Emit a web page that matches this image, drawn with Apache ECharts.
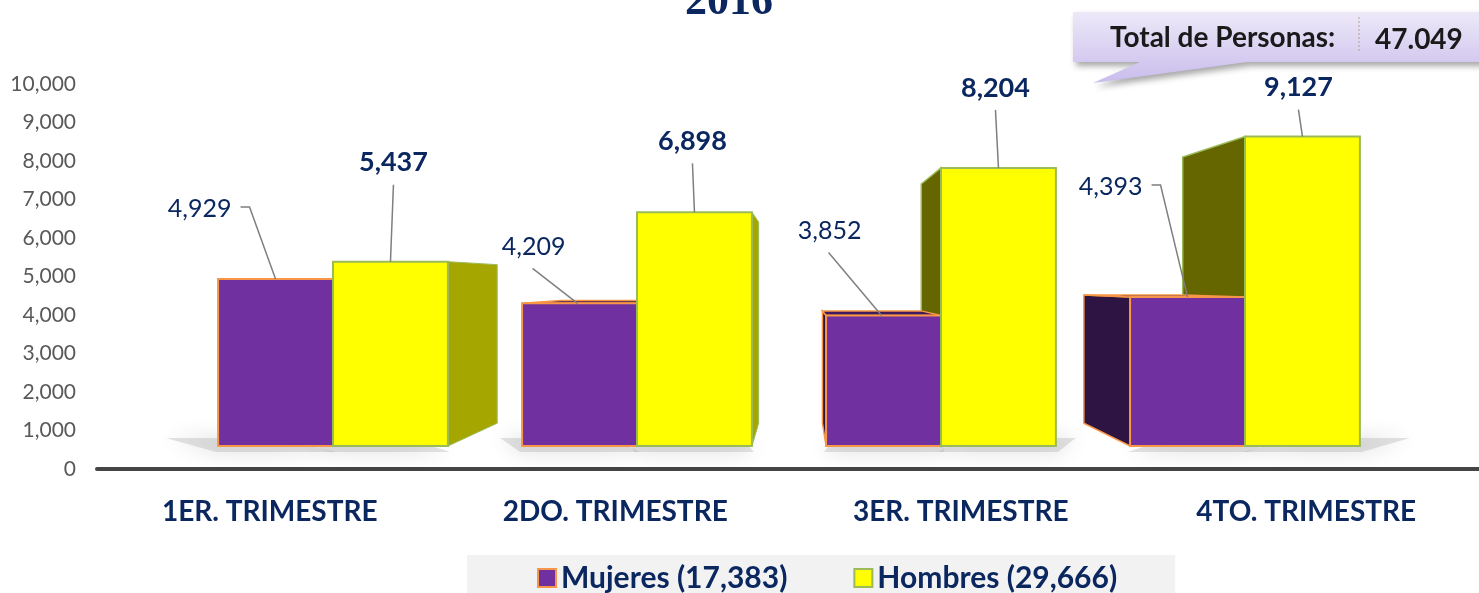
<!DOCTYPE html>
<html>
<head>
<meta charset="utf-8">
<script src="https://cdn.jsdelivr.net/npm/echarts@6/dist/echarts.min.js"></script>
<style>
html, body { margin: 0; padding: 0; background: #fff; }
#chart { width: 1479px; height: 593px; }
</style>
</head>
<body>
<div id="chart"></div>
<script>
// datos 2016
const trimestres = ['1ER. TRIMESTRE', '2DO. TRIMESTRE', '3ER. TRIMESTRE', '4TO. TRIMESTRE']
const mujeres = [4929, 4209, 3852, 4393]
const hombres = [5437, 6898, 8204, 9127]

// posicion de etiquetas (px, respecto a la cara superior de la barra)
const mujLabelOffset = [[-44, -70], [-14, -56], [-22, -84], [-45, -110]]
const mujLabelElbow = [true, false, false, true]
const homLabelOffset = [[3, -99], [-2, -71], [-3, -80], [-4, -49]]

const NAVY = '#0b2760'
const VP = [800, 283]   // punto de fuga de la perspectiva
const DEPTH = 0.14

const sum = arr => arr.reduce((a, b) => a + b, 0)
const fmtComma = v => String(v).replace(/\B(?=(\d{3})+(?!\d))/g, ',')
const fmtDot = v => String(v).replace(/\B(?=(\d{3})+(?!\d))/g, '.')

const nameM = 'Mujeres (' + fmtComma(sum(mujeres)) + ')'
const nameH = 'Hombres (' + fmtComma(sum(hombres)) + ')'
const total = sum(mujeres) + sum(hombres)

const barStyles = [
  { front: '#7030a0', border: '#f79646', sideL: '#2e1442', sideR: '#4a2070', top: '#3e1a5e' },
  { front: '#ffff00', border: '#9bbb59', sideL: '#666600', sideR: '#a6a600', top: '#c8c800' }
]

const back = p => [p[0] + (VP[0] - p[0]) * DEPTH, p[1] + (VP[1] - p[1]) * DEPTH]

function renderBar(kind) {
  return function (params, api) {
    const i = api.value(0)
    const top = api.coord([i, api.value(1)])
    const base = api.coord([i, 0])
    const w = api.size([1, 0])[0] * 0.378
    const x0 = kind === 0 ? top[0] - w : top[0]
    const x1 = x0 + w
    const y0 = top[1]
    const y1 = base[1]
    const cx = (x0 + x1) / 2
    const st = barStyles[kind]
    const sideZ = kind === 0 ? 2 : 1
    const children = []

    // sombra en el piso
    const s = (cx - VP[0]) * 0.1
    children.push({
      type: 'polygon', z2: 0,
      shape: { points: [[x0 - 2, y1 + 6], [x1 + 2, y1 + 6], [x1 + s, y1 - 8], [x0 + s, y1 - 8]] },
      style: { fill: 'rgba(160,160,160,0.3)', shadowBlur: 20, shadowColor: 'rgba(0,0,0,0.45)' }
    })

    const tl = [x0, y0], tr = [x1, y0], bl = [x0, y1], br = [x1, y1]
    if (x1 < VP[0]) {
      children.push({
        type: 'polygon', z2: sideZ,
        shape: { points: [tr, br, back(br), back(tr)] },
        style: { fill: st.sideR, stroke: st.border, lineWidth: 1 }
      })
    }
    if (x0 > VP[0]) {
      children.push({
        type: 'polygon', z2: sideZ,
        shape: { points: [tl, bl, back(bl), back(tl)] },
        style: { fill: st.sideL, stroke: st.border, lineWidth: 1.5 }
      })
    }
    if (y0 > VP[1]) {
      children.push({
        type: 'polygon', z2: sideZ,
        shape: { points: [tl, tr, back(tr), back(tl)] },
        style: { fill: st.top, stroke: st.border, lineWidth: 1.5 }
      })
    }
    children.push({
      type: 'rect', z2: 5,
      shape: { x: x0, y: y0, width: w, height: y1 - y0 },
      style: { fill: st.front, stroke: st.border, lineWidth: 2 }
    })

    // etiqueta y linea guia
    const label = fmtComma(api.value(1))
    if (kind === 0) {
      const off = mujLabelOffset[i]
      const ax = cx + off[0], ay = y0 + off[1]
      children.push({
        type: 'text', z2: 10,
        style: { text: label, x: ax, y: ay, align: 'right', verticalAlign: 'middle',
          font: '400 25px Lato', fill: NAVY }
      })
      const pts = mujLabelElbow[i]
        ? [[ax + 9, ay - 2], [ax + 18, ay - 2], [cx, y0]]
        : [[ax - 33, ay + 21], [cx - 2, y0]]
      children.push({
        type: 'polyline', z2: 10,
        shape: { points: pts },
        style: { stroke: '#7f7f7f', lineWidth: 1.5, fill: null }
      })
    } else {
      const off = homLabelOffset[i]
      const ax = cx + off[0], ay = y0 + off[1]
      children.push({
        type: 'text', z2: 10,
        style: { text: label, x: ax, y: ay, align: 'center', verticalAlign: 'middle',
          font: 'bold 27px Lato', fill: NAVY }
      })
      children.push({
        type: 'polyline', z2: 10,
        shape: { points: [[ax, ay + 22], [cx, y0]] },
        style: { stroke: '#7f7f7f', lineWidth: 1.5, fill: null }
      })
    }
    return { type: 'group', children }
  }
}

const chart = echarts.init(document.getElementById('chart'))

chart.setOption({
  animation: false,
  grid: [
    { left: 97, right: 0, top: 84, bottom: 124 },
    { left: 181, right: 82, top: 107, bottom: 147 }
  ],
  xAxis: [
    {
      type: 'category', gridIndex: 0, data: trimestres,
      axisLine: { lineStyle: { color: '#454545', width: 4, cap: 'round' } },
      axisTick: { show: false },
      axisLabel: { margin: 29, fontFamily: 'Lato', fontWeight: 'bold', fontSize: 28, color: NAVY }
    },
    { type: 'category', gridIndex: 1, data: trimestres, show: false }
  ],
  yAxis: [
    {
      type: 'value', gridIndex: 0, min: 0, max: 10000, interval: 1000,
      axisLine: { show: false }, axisTick: { show: false }, splitLine: { show: false },
      axisLabel: { formatter: v => fmtComma(v), fontFamily: 'Lato', fontSize: 21, color: '#595959', margin: 21 }
    },
    { type: 'value', gridIndex: 1, min: 0, max: 10000, show: false }
  ],
  legend: {
    left: 467, top: 555,
    padding: [8, 58, 8, 70],
    itemGap: 66, itemWidth: 18, itemHeight: 18,
    backgroundColor: '#f2f2f2',
    textStyle: { fontFamily: 'Lato', fontWeight: 'bold', fontSize: 30, color: NAVY },
    data: [
      { name: nameM, icon: 'rect', itemStyle: { color: '#7030a0', borderColor: '#f79646', borderWidth: 2 } },
      { name: nameH, icon: 'rect', itemStyle: { color: '#ffff00', borderColor: '#9bbb59', borderWidth: 2 } }
    ]
  },
  graphic: [
    {
      type: 'text', x: 729, y: -19,
      style: { text: '2016', font: 'bold 44px "Liberation Serif"', fill: '#0b2760', align: 'center' }
    },
    {
      type: 'polygon', z: 20,
      shape: { points: [[1073, 12], [1490, 12], [1490, 62], [1247, 62], [1093, 83], [1140, 62], [1073, 62]] },
      style: {
        fill: new echarts.graphic.LinearGradient(0, 0, 0, 1, [
          { offset: 0, color: '#ede9f8' },
          { offset: 1, color: '#c9bcec' }
        ]),
        shadowBlur: 6, shadowOffsetX: 3, shadowOffsetY: 4, shadowColor: 'rgba(0,0,0,0.35)'
      }
    },
    {
      type: 'text', z: 21, x: 1110, y: 38,
      style: { text: 'Total de Personas:', font: 'bold 28px Lato', fill: '#1a1a1a', verticalAlign: 'middle' }
    },
    {
      type: 'line', z: 21,
      shape: { x1: 1359, y1: 17, x2: 1359, y2: 52 },
      style: { stroke: '#b5a184', lineWidth: 1, lineDash: [2, 2] }
    },
    {
      type: 'text', z: 21, x: 1375, y: 40,
      style: { text: fmtDot(total), font: 'bold 28px Lato', fill: '#1a1a1a', verticalAlign: 'middle' }
    }
  ],
  series: [
    {
      type: 'custom', name: nameM, xAxisIndex: 1, yAxisIndex: 1,
      renderItem: renderBar(0),
      itemStyle: { color: '#7030a0', borderColor: '#f79646', borderWidth: 2 },
      encode: { x: 0, y: 1 },
      data: mujeres.map((v, i) => [i, v])
    },
    {
      type: 'custom', name: nameH, xAxisIndex: 1, yAxisIndex: 1,
      renderItem: renderBar(1),
      itemStyle: { color: '#ffff00', borderColor: '#9bbb59', borderWidth: 2 },
      encode: { x: 0, y: 1 },
      data: hombres.map((v, i) => [i, v])
    }
  ]
})
</script>
</body>
</html>
